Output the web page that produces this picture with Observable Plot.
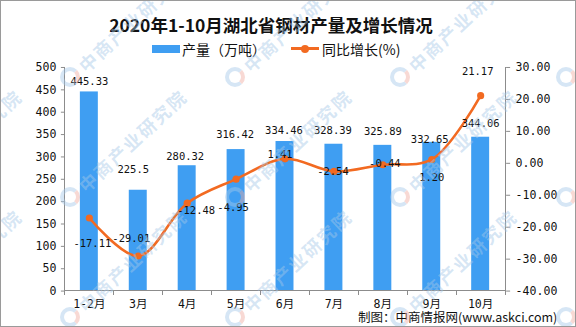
<!DOCTYPE html>
<html>
<head>
<meta charset="utf-8">
<script src="https://cdn.jsdelivr.net/npm/d3@7"></script>
<script src="https://cdn.jsdelivr.net/npm/@observablehq/plot@0.6"></script>
<style>
  body { margin: 0; background: #fff; }
  #wrap { position: relative; width: 576px; height: 327px; box-sizing: border-box; border: 1px solid #9a9a9a; overflow: hidden; background: #fff; font-family: "Noto Sans CJK SC", sans-serif; }
  #title { position: absolute; left: 70px; width: 400px; top: 13px; text-align: center; font-size: 17.5px; line-height: 22px; font-weight: 700; color: #111; white-space: nowrap; }
  .lg { position: absolute; font-size: 14px; line-height: 16px; color: #111; white-space: nowrap; }
  #chart { position: absolute; left: -1px; top: 57px; }
  #source { position: absolute; left: 357px; top: 308px; font-size: 12.5px; line-height: 16px; color: #111; white-space: nowrap; }
  .wm { position: absolute; pointer-events: none; font-size: 18px; line-height: 20px; font-weight: 700; color: rgba(165,200,232,0.45); letter-spacing: 2px; white-space: nowrap; transform-origin: 0 50%; transform: rotate(-43deg); }
  .wl { position: absolute; pointer-events: none; width: 12px; height: 12px; border-radius: 50%; border: 4px solid rgba(165,200,232,0.45); border-right-color: rgba(240,170,160,0.45); }
</style>
</head>
<body>
<div id="wrap">
  <div id="title">2020年1-10月湖北省钢材产量及增长情况</div>
  <div class="lg" style="left:151px;top:44px;width:28px;height:8px;background:#3f9ef2;"></div>
  <div class="lg" style="left:181px;top:40px;">产量（万吨）</div>
  <div class="lg" style="left:290px;top:46px;width:28px;height:3px;background:#f26a21;"></div>
  <div class="lg" style="left:300px;top:43.5px;width:8px;height:8px;border-radius:50%;background:#f26a21;"></div>
  <div class="lg" style="left:321px;top:40px;">同比增长(%)</div>
  <div id="chart"></div>
  <div id="source">制图：中商情报网(www.askci.com)</div>
  <div id="wmlayer"></div>
</div>
<script>
// ---- data ----
const categories = ["1-2月", "3月", "4月", "5月", "6月", "7月", "8月", "9月", "10月"];
const output = [445.33, 225.5, 280.32, 316.42, 334.46, 328.39, 325.89, 332.65, 344.06];
const growth = [-17.11, -29.01, -12.48, -4.95, 1.41, -2.54, -0.44, 1.20, 21.17];
const leftTicks = [0, 50, 100, 150, 200, 250, 300, 350, 400, 450, 500];
const rightTicks = [-40, -30, -20, -10, 0, 10, 20, 30];

// label placement (layout only)
const outLabelDx = [0, -5, -2, -1, -1, -1, 0, -2, 0];
const outLabelDy = [-10, -21, -9, -15, -11, -14, -14, -3, -14];
const growLabelDx = [3, -7, 9, -3, -5, -1, 2, 0, -3];
const growLabelDy = [26, -17, 7, 29, -4, 0, -1, 18, -24];

const blue = "#3f9ef2";
const orange = "#f26a21";
const axisGray = "#8c8c8c";
const monoFont = "DejaVu Sans Mono, Noto Sans CJK SC, monospace";

const data = categories.map((c, i) => ({c, v: output[i], g: growth[i]}));
const yR = d3.scaleLinear([-40, 30], [0, 500]);
const fmt2 = v => (Math.round(v * 100) / 100 + 0).toFixed(2);

function axisLines(index, scales, values, dims) {
  const x0 = dims.marginLeft, x1 = dims.width - dims.marginRight;
  const yt = dims.marginTop, yb = dims.height - dims.marginBottom;
  const g = d3.create("svg:g").attr("stroke", axisGray).attr("stroke-width", 1).attr("shape-rendering", "crispEdges");
  g.append("line").attr("x1", x0).attr("x2", x0).attr("y1", yt).attr("y2", yb);
  g.append("line").attr("x1", x1).attr("x2", x1).attr("y1", yt).attr("y2", yb);
  g.append("line").attr("x1", x0).attr("x2", x1).attr("y1", yb).attr("y2", yb);
  const n = categories.length;
  for (let i = 0; i <= n; i++) {
    const x = x0 + i * (x1 - x0) / n;
    g.append("line").attr("x1", x).attr("x2", x).attr("y1", yb).attr("y2", yb + 4);
  }
  return g.node();
}

const outLabels = data.map((d, i) => Plot.text([d], {
  x: "c", y: "v", text: d => String(d.v), dx: outLabelDx[i], dy: outLabelDy[i],
  fontFamily: monoFont, fontSize: 10.5, fill: "#111"
}));
const growLabels = data.map((d, i) => Plot.text([d], {
  x: "c", y: d => yR(d.g), text: d => fmt2(d.g), dx: growLabelDx[i], dy: growLabelDy[i],
  fontFamily: monoFont, fontSize: 10.5, fill: "#111"
}));

const chart = Plot.plot({
  width: 576,
  height: 269,
  marginTop: 9,
  marginBottom: 36,
  marginLeft: 65,
  marginRight: 70,
  style: {fontFamily: monoFont, background: "transparent", overflow: "visible", color: "#111"},
  x: {domain: categories, paddingInner: 0.63, paddingOuter: 0.315, axis: null, label: null},
  y: {domain: [0, 500], axis: null, label: null},
  marks: [
    Plot.barY(data, {x: "c", y: "v", fill: blue}),
    Plot.line(data, {x: "c", y: d => yR(d.g), stroke: orange, strokeWidth: 2.6, curve: "catmull-rom"}),
    Plot.dot(data, {x: "c", y: d => yR(d.g), r: 3.6, fill: orange}),
    ...outLabels,
    ...growLabels,
    Plot.axisY(leftTicks, {anchor: "left", tickSize: 4, tickPadding: 5, stroke: axisGray, fill: "#111", fontSize: 11.6, fontFamily: monoFont, label: null}),
    Plot.axisY(rightTicks.map(t => yR(t)), {anchor: "right", tickSize: 4, tickPadding: 6, stroke: axisGray, fill: "#111", fontSize: 11.6, fontFamily: monoFont, label: null,
      tickFormat: d => fmt2(yR.invert(d))}),
    Plot.axisX({anchor: "bottom", tickSize: 0, tickPadding: 9, fill: "#111", fontSize: 11.6, fontFamily: monoFont, label: null}),
    axisLines
  ]
});
document.getElementById("chart").appendChild(chart);

// watermark "中商产业研究院"
const wm = document.getElementById("wmlayer");
const wmXs = [-95, 70, 235, 400, 566];
const wmYs = [77, 197, 317];
for (const ly of wmYs) {
  for (const lx of wmXs) {
    const logo = document.createElement("div");
    logo.className = "wl";
    logo.style.left = (lx - 11) + "px";
    logo.style.top = (ly - 11) + "px";
    wm.appendChild(logo);
    const t = document.createElement("div");
    t.className = "wm";
    t.textContent = "中商产业研究院";
    t.style.left = (lx + 10) + "px";
    t.style.top = (ly - 20) + "px";
    wm.appendChild(t);
  }
}
</script>
</body>
</html>
